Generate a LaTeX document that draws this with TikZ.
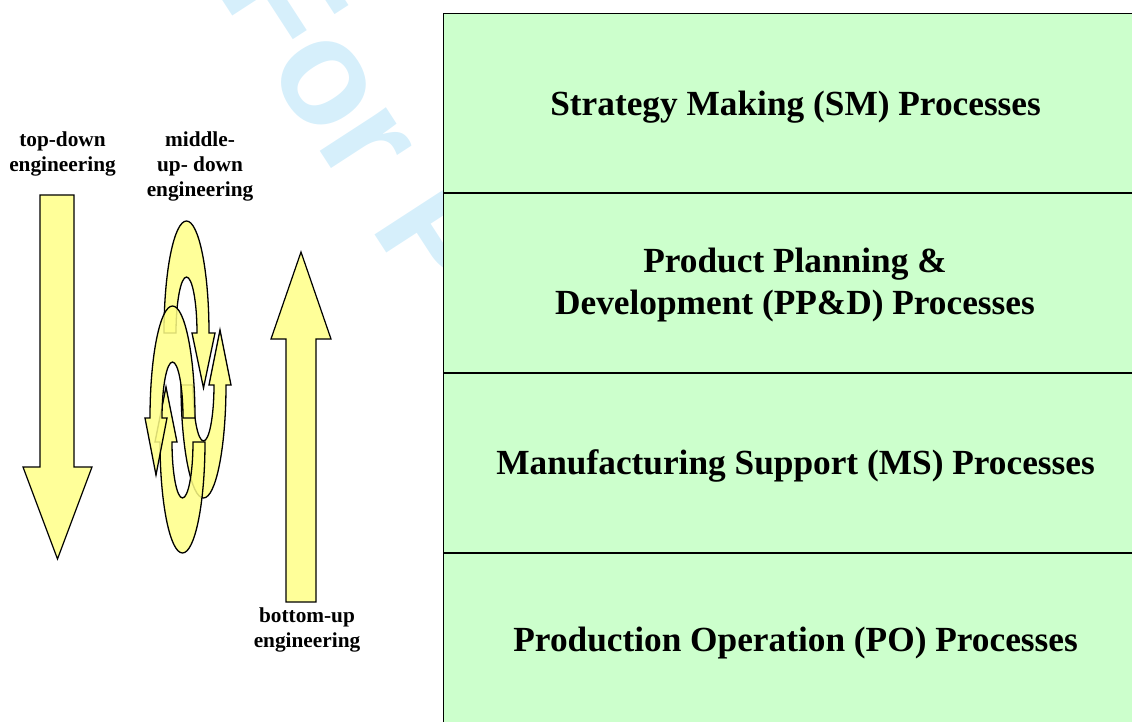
\documentclass[tikz,border=0pt]{standalone}
\usepackage{fontspec}
\setmainfont{Liberation Serif}
\newfontfamily\wmfont[Kerning=Off]{Liberation Sans}
\definecolor{boxgreen}{RGB}{204,255,204}
\definecolor{arrowyellow}{RGB}{255,255,153}
\definecolor{cyclefill}{RGB}{255,255,135}
\definecolor{wmblue}{RGB}{214,239,251}
\tikzset{
  bigarrow/.style={fill=arrowyellow, draw=black, line width=1.2pt, line join=miter},
  cyclearrow/.style={fill=cyclefill, fill opacity=0.85, draw=black, line width=1.3pt, line join=miter},
  layerbox/.style={draw=black, line width=1.2pt, fill=boxgreen, rectangle, inner sep=0pt,
    minimum width=704pt, minimum height=178.75pt, anchor=north west},
  procname/.style={font=\bfseries\fontsize{35.3}{42}\selectfont, align=center, inner sep=0pt},
  approach/.style={font=\bfseries\fontsize{21.3}{25}\selectfont, align=center, inner sep=0pt},
  watermark/.style={font=\wmfont\bfseries\fontsize{150}{150}\selectfont, text=wmblue, rotate=-57,
    anchor=base west, inner sep=0pt},
}
\begin{document}
\begin{tikzpicture}[x=1pt,y=-1pt]
\useasboundingbox (0,0) rectangle (1132,722);
\clip (0,0) rectangle (1132,722);
% watermark (the rest of it lies behind the process layers)
\node[watermark] (wm) at (215,-11) {For P};
% process layers
\node[layerbox] (sm) at (443,13) {};
\node[layerbox] (ppd) at (sm.south west) {};
\node[layerbox] (ms) at (ppd.south west) {};
\node[layerbox] (po) at (ms.south west) {};
\node[procname, anchor=base] (smt) at ([yshift=-12.5pt]sm.center) {Strategy Making (SM) Processes};
\node[procname] (ppdt) at (795,285) {Product Planning \&\\Development (PP\&D) Processes};
\node[procname, anchor=base] (mst) at ([yshift=-11.5pt]ms.center) {Manufacturing Support (MS) Processes};
\node[procname, anchor=base] (pot) at ([yshift=-9pt]po.center) {Production Operation (PO) Processes};
% labels
\node[approach] (td) at (62.5,153.6) {top-down\\engineering};
\node[approach] (mud) at (200,166) {middle-\\up- down\\engineering};
\node[approach] (bu) at (307,629.6) {bottom-up\\engineering};
% top-down arrow
\draw[bigarrow] (40,195) -- (74,195) -- (74,467) -- (92,467) -- (57.5,559) -- (23,467) -- (40,467) -- cycle;
% bottom-up arrow
\draw[bigarrow] (286,602) -- (316,602) -- (316,339) -- (331,339) -- (301,252) -- (271,339) -- (286,339) -- cycle;
% middle-up-down cycle arrows
% A: arch, arrow down on right
\draw[cyclearrow] (164,333) arc[start angle=180,end angle=360,x radius=22.5,y radius=112]
  -- (215,333) -- (203.5,388) -- (192,333) -- (197,333)
  arc[start angle=0,end angle=-180,x radius=10.5,y radius=56] -- cycle;
% D: cup, arrow up on right
\draw[cyclearrow] (181,385) arc[start angle=180,end angle=0,x radius=22.5,y radius=113]
  -- (231,385) -- (220,330) -- (209,385) -- (214,385)
  arc[start angle=0,end angle=180,x radius=10.5,y radius=56] -- cycle;
% C: cup, arrow up on left
\draw[cyclearrow] (205,442) arc[start angle=0,end angle=180,x radius=22.5,y radius=111]
  -- (155,442) -- (166,387) -- (177,442) -- (172,442)
  arc[start angle=180,end angle=0,x radius=10.5,y radius=56] -- cycle;
% B: arch, arrow down on left
\draw[cyclearrow] (195,418) arc[start angle=0,end angle=-180,x radius=22.5,y radius=112]
  -- (145,418) -- (156,475) -- (167,418) -- (162,418)
  arc[start angle=180,end angle=360,x radius=10.5,y radius=56] -- cycle;
\end{tikzpicture}
\end{document}
